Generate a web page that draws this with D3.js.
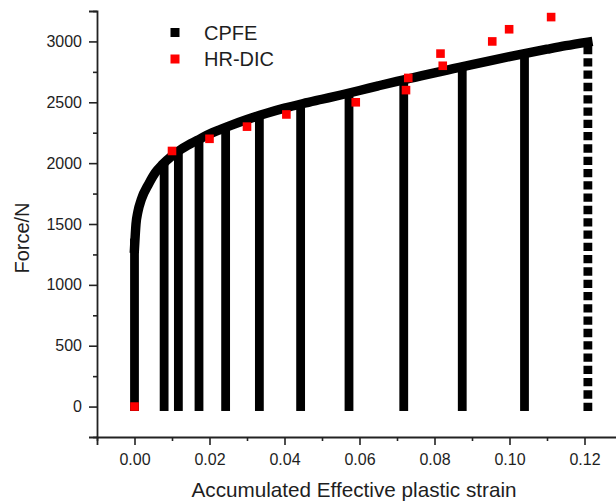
<!DOCTYPE html>
<html>
<head>
<meta charset="utf-8">
<script src="https://cdn.jsdelivr.net/npm/d3@7"></script>
<style>
  html, body { margin: 0; padding: 0; background: #fff; }
  svg { display: block; }
  text { font-family: "Liberation Sans", Arial, sans-serif; fill: #1e1e1e; }
</style>
</head>
<body>
<svg id="chart" width="616" height="502"></svg>
<script>
// ---- data ----
// CPFE loading curve (accumulated effective plastic strain, force in N)
const cpfeStrain = [0, 0.0004, 0.0009, 0.0018, 0.0038, 0.0055, 0.0075, 0.010, 0.0125, 0.015, 0.0175, 0.020,
  0.0225, 0.025, 0.030, 0.035, 0.040, 0.045, 0.050, 0.055, 0.060, 0.065, 0.070, 0.075, 0.080,
  0.085, 0.090, 0.095, 0.100, 0.105, 0.110, 0.115, 0.1209];
const cpfeForce = [1300, 1500, 1600, 1700, 1830, 1920, 1990, 2060, 2115, 2160, 2200, 2240,
  2272, 2302, 2358, 2408, 2452, 2490, 2525, 2560, 2597, 2635, 2672, 2707, 2742,
  2776, 2810, 2843, 2875, 2906, 2936, 2965, 2995];
// CPFE unloading columns (strain, force at top)
const unloadStrain = [0, 0.0079, 0.0117, 0.0172, 0.0243, 0.0333, 0.0443, 0.0572, 0.0718, 0.0874, 0.1040];
const unloadForce  = [1380, 2000, 2100, 2195, 2293, 2390, 2485, 2576, 2685, 2792, 2900];
// final (sparse) unloading column
const finalStrain = [0.1209];
const finalForce  = [2995];
// HR-DIC measurements
const dicStrain = [0, 0.010, 0.020, 0.030, 0.0405, 0.059, 0.0724, 0.073, 0.0816, 0.0822, 0.0954, 0.0999, 0.1111];
const dicForce  = [0, 2100, 2200, 2300, 2400, 2500, 2600, 2700, 2900, 2800, 3000, 3100, 3200];
// axes ticks
const xTicks = [0, 0.02, 0.04, 0.06, 0.08, 0.10, 0.12];
const xMinor = [-0.01, 0.01, 0.03, 0.05, 0.07, 0.09, 0.11, 0.13];
const yTicks = [0, 500, 1000, 1500, 2000, 2500, 3000];
const yMinor = [-250, 250, 750, 1250, 1750, 2250, 2750, 3250];
const seriesNames = ["CPFE", "HR-DIC"];
const xTitle = "Accumulated Effective plastic strain";
const yTitle = "Force/N";

// ---- drawing ----
const svg = d3.select("#chart");
const x = d3.scaleLinear().domain([-0.01, 0.13]).range([97, 622]);
const y = d3.scaleLinear().domain([-250, 3250]).range([437, 11]);
const colW = 8.8;
const black = "#000";
const red = "#ff0000";

// axes
const axColor = "#222";
const gx = svg.append("g").attr("transform", `translate(0,${y(-250)})`)
  .call(d3.axisBottom(x).tickValues(xTicks).tickSize(8).tickPadding(9).tickFormat(d3.format(".2f")));
const gxm = svg.append("g").attr("transform", `translate(0,${y(-250)})`)
  .call(d3.axisBottom(x).tickValues(xMinor).tickSize(4).tickFormat(""));
const gy = svg.append("g").attr("transform", `translate(${x(-0.01)},0)`)
  .call(d3.axisLeft(y).tickValues(yTicks).tickSize(8).tickPadding(7).tickFormat(d3.format("d")));
const gym = svg.append("g").attr("transform", `translate(${x(-0.01)},0)`)
  .call(d3.axisLeft(y).tickValues(yMinor).tickSize(4).tickFormat(""));
[gx, gxm, gy, gym].forEach(g => {
  g.selectAll("path.domain").attr("stroke", axColor).attr("stroke-width", 1.8);
  g.selectAll(".tick line").attr("stroke", axColor).attr("stroke-width", 1.6);
  g.selectAll(".tick text").style("font-family", '"Liberation Sans", Arial, sans-serif')
    .style("font-size", "16px").attr("fill", "#2a2a2a");
});
gxm.select("path.domain").remove();
gym.select("path.domain").remove();

// unloading columns
svg.append("g").selectAll("rect").data(unloadStrain).join("rect")
  .attr("x", d => x(d) - colW / 2)
  .attr("width", colW)
  .attr("y", (d, i) => y(unloadForce[i]))
  .attr("height", (d, i) => y(0) + colW / 2 - y(unloadForce[i]))
  .attr("fill", black);

// final dotted column
svg.append("g").selectAll("line").data(finalStrain).join("line")
  .attr("x1", d => x(d)).attr("x2", d => x(d))
  .attr("y1", y(0) + colW / 2)
  .attr("y2", (d, i) => y(finalForce[i]))
  .attr("stroke", black).attr("stroke-width", colW)
  .attr("stroke-dasharray", "8.3 4");

// loading curve
const curvePts = cpfeStrain.map((s, i) => [s, cpfeForce[i]]);
svg.append("path")
  .attr("d", d3.line().x(d => x(d[0])).y(d => y(d[1])).curve(d3.curveMonotoneX)(curvePts))
  .attr("fill", "none").attr("stroke", black).attr("stroke-width", 9.4)
  .attr("stroke-linecap", "square").attr("stroke-linejoin", "round");

// HR-DIC points
const rs = 8.6;
svg.append("g").selectAll("rect").data(dicStrain).join("rect")
  .attr("x", d => x(d) - rs / 2)
  .attr("y", (d, i) => y(dicForce[i]) - rs / 2)
  .attr("width", rs).attr("height", rs)
  .attr("fill", red);

// legend
const legend = svg.append("g");
const legColors = [black, red];
const legY = [32.5, 59];
seriesNames.forEach((name, i) => {
  legend.append("rect").attr("x", 175 - 4.5).attr("y", legY[i] - 4.5)
    .attr("width", 9).attr("height", 9).attr("fill", legColors[i]);
  legend.append("text").attr("x", 204).attr("y", legY[i] + 7.2)
    .style("font-size", "20px").text(name);
});

// axis titles
svg.append("text").attr("x", 354).attr("y", 497)
  .attr("text-anchor", "middle").style("font-size", "20.7px").text(xTitle);
svg.append("text")
  .attr("transform", "translate(29,238) rotate(-90)")
  .attr("text-anchor", "middle").style("font-size", "20px").text(yTitle);
</script>
</body>
</html>
